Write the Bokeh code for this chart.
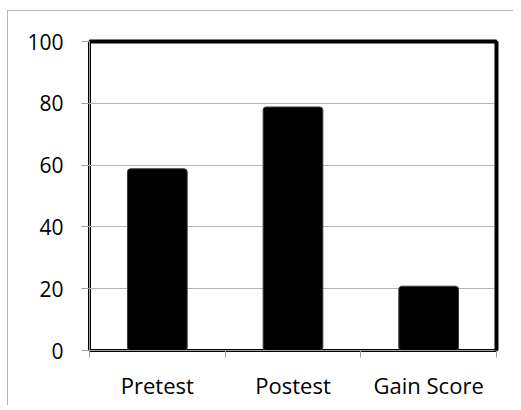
from bokeh.plotting import figure
from bokeh.models import Range1d, FixedTicker, LinearAxis
from bokeh.embed import file_html
from bokeh.resources import INLINE

categories = ["Pretest", "Postest", "Gain Score"]
scores = [58.8, 78.8, 20.8]
y_ticks = [0, 20, 40, 60, 80, 100]

xs = [i + 0.5 for i in range(len(categories))]
bounds = list(range(len(categories) + 1))

p = figure(frame_width=407, frame_height=309, output_backend="svg", toolbar_location=None,
           x_range=Range1d(0, len(categories)), y_range=Range1d(0, 100),
           min_border_left=81, min_border_right=17, min_border_top=30, min_border_bottom=55)
p.styles = {"border-left": "1px solid #b4b4b4", "border-top": "1px solid #b4b4b4",
            "margin-left": "7px", "margin-top": "10px"}

p.vbar(x=xs, top=scores, bottom=0, width=0.44, fill_color="black",
       line_color="#3a3a3a", line_width=1, border_radius=3)

font = "Open Sans"
# x axis
p.xaxis.ticker = FixedTicker(ticks=xs, minor_ticks=bounds)
p.xaxis.major_label_overrides = {x: c for x, c in zip(xs, categories)}
p.xaxis.major_tick_line_color = None
p.xaxis.major_tick_out = 0
p.xaxis.major_tick_in = 0
p.xaxis.minor_tick_out = 7
p.xaxis.minor_tick_in = 0
p.xaxis.minor_tick_line_color = "#a0a0a0"
p.xaxis.axis_line_color = "#a0a0a0"
p.xaxis.major_label_standoff = 12
p.xaxis.major_label_text_font = font
p.xaxis.major_label_text_font_size = "22px"
p.xaxis.major_label_text_color = "black"

# y axis
p.yaxis.ticker = FixedTicker(ticks=y_ticks)
p.yaxis.major_tick_out = 8
p.yaxis.major_tick_in = 0
p.yaxis.minor_tick_line_color = None
p.yaxis.major_tick_line_color = "#a0a0a0"
p.yaxis.axis_line_color = "#a0a0a0"
p.yaxis.major_label_standoff = 18
p.yaxis.major_label_text_font = font
p.yaxis.major_label_text_font_size = "21px"
p.yaxis.major_label_text_color = "black"

# heavier top and right frame edges
for side in ("above", "right"):
    ax = LinearAxis(ticker=FixedTicker(ticks=[]), axis_line_color="black", axis_line_width=4,
                    major_tick_line_color=None, minor_tick_line_color=None,
                    major_label_text_font_size="1px")
    p.add_layout(ax, side)

p.xgrid.visible = False
p.ygrid.ticker = FixedTicker(ticks=y_ticks)
p.ygrid.grid_line_color = "#b4b4b4"
p.ygrid.grid_line_width = 1

p.outline_line_color = "black"
p.outline_line_width = 3
p.outline_line_alpha = 1
p.background_fill_color = "white"
p.border_fill_color = "white"

open("out.html", "w").write(file_html(p, INLINE))
